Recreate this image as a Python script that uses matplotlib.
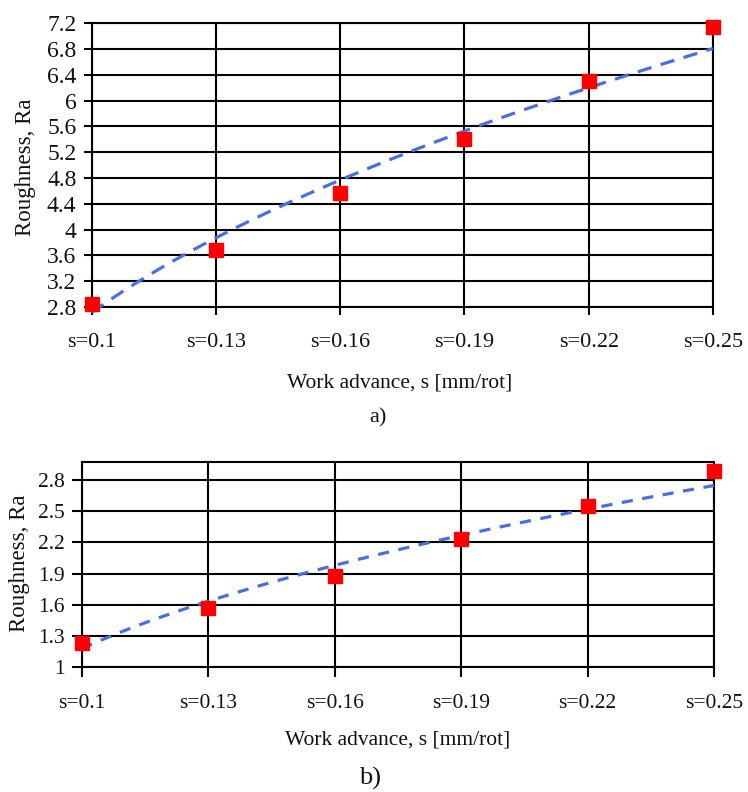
import numpy as np
import matplotlib
matplotlib.use("Agg")
import matplotlib.pyplot as plt

plt.rcParams['font.family'] = ['Liberation Serif', 'DejaVu Serif']

# feed values and measured roughness for both test series
feed_labels = ["s=0.1", "s=0.13", "s=0.16", "s=0.19", "s=0.22", "s=0.25"]
ra_a = [2.85, 3.69, 4.57, 5.41, 6.30, 7.14]
ra_b = [1.23, 1.57, 1.88, 2.23, 2.55, 2.89]

yticks_a = [2.8, 3.2, 3.6, 4, 4.4, 4.8, 5.2, 5.6, 6, 6.4, 6.8, 7.2]
yticks_b = [1, 1.3, 1.6, 1.9, 2.2, 2.5, 2.8]

W, H = 748, 792
fig = plt.figure(figsize=(W / 100, H / 100), dpi=100)
txt = "#111111"


def px_axes(left, top, right, bottom):
    return fig.add_axes([left / W, 1 - bottom / H, (right - left) / W, (bottom - top) / H])


def power_trend(vals):
    # Excel-style power trendline: y = a * n^b, n = 1..6
    n = np.arange(1, len(vals) + 1)
    b, ln_a = np.polyfit(np.log(n), np.log(vals), 1)
    xs = np.linspace(1, len(vals), 200)
    return xs - 1, np.exp(ln_a) * xs ** b


def draw(ax, vals, yticks, ylim, dashes, tick_len, xsize, ysize):
    xs, ys = power_trend(vals)
    ax.plot(xs, ys, color="#4a6ee0", lw=2.3, dashes=dashes, zorder=3, clip_on=False)
    ax.plot(range(len(vals)), vals, "s", color="#ff0000", ms=10, mec="#ff0000",
            zorder=4, clip_on=False)
    ax.set_xlim(0, len(vals) - 1)
    ax.set_ylim(*ylim)
    ax.set_xticks(range(len(vals)))
    ax.set_xticklabels(feed_labels)
    ax.set_yticks(yticks)
    ax.set_yticklabels([f"{v:g}" for v in yticks])
    ax.grid(True, color="black", lw=1.5)
    ax.set_axisbelow(True)
    for sp in ax.spines.values():
        sp.set_color("black")
        sp.set_linewidth(1.5)
    ax.tick_params(axis="x", length=tick_len, width=1.5, pad=13, labelsize=xsize, labelcolor=txt)
    ax.tick_params(axis="y", length=tick_len, width=1.5, pad=5, labelsize=ysize, labelcolor=txt)


ax1 = px_axes(91.7, 23.3, 713, 307)
draw(ax1, ra_a, yticks_a, (2.8, 7.2), (4.5, 3), 6, 16, 17)
fig.text(25 / W, 1 - 167 / H, "Roughness, Ra", rotation=90, ha="center", va="center",
         fontsize=16.5, color=txt)
fig.text(400 / W, 1 - 383 / H, "Work advance, s [mm/rot]", ha="center", va="center",
         fontsize=15.5, color=txt)
fig.text(378 / W, 1 - 418 / H, "a)", ha="center", va="center", fontsize=16, color=txt)

ax2 = px_axes(81.7, 461.7, 714, 666.7)
draw(ax2, ra_b, yticks_b, (1, 2.98), (3.5, 3), 7, 15.5, 15.5)
fig.text(20 / W, 1 - 563 / H, "Roughness, Ra", rotation=90, ha="center", va="center",
         fontsize=16.5, color=txt)
fig.text(398 / W, 1 - 740 / H, "Work advance, s [mm/rot]", ha="center", va="center",
         fontsize=15.5, color=txt)
fig.text(370 / W, 1 - 778 / H, "b)", ha="center", va="center", fontsize=19, color=txt)

fig.savefig("out.png", dpi=100)
